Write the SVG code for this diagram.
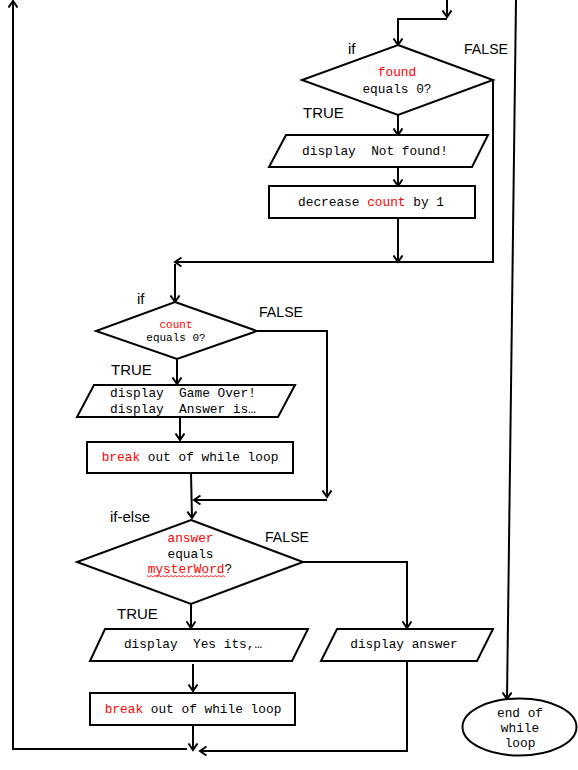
<svg xmlns="http://www.w3.org/2000/svg" width="578" height="770" viewBox="0 0 578 770">
<defs>
<marker id="arr" markerUnits="userSpaceOnUse" markerWidth="10" markerHeight="12" refX="7" refY="5" orient="auto">
<path d="M0.5,0.5 L7,5 L0.5,9.5" fill="none" stroke="#000" stroke-width="2"/>
</marker>
</defs>
<style>
.shape{fill:#fff;stroke:#000;stroke-width:2}
.conn{fill:none;stroke:#000;stroke-width:2;marker-end:url(#arr)}
.line{fill:none;stroke:#000;stroke-width:2}
.mono{font-family:"Liberation Mono","Courier New",monospace;font-size:12.8px;fill:#000}
.sm{font-size:11px}
.red{fill:#ff0000}
.lbl{font-family:"Liberation Sans",Arial,sans-serif;font-size:15px;fill:#000}
</style>
<rect width="578" height="770" fill="#fff"/>
<g id="connectors">
<path class="conn" d="M447,0 V17"/>
<path class="conn" d="M447,19 H398 V45"/>
<path class="conn" d="M398,115 V135"/>
<path class="conn" d="M398,167 V186"/>
<path class="conn" d="M398,218 V262"/>
<path class="conn" d="M493,80 V262 H175"/>
<path class="conn" d="M175,264 V302"/>
<path class="conn" d="M177,359 V384"/>
<path class="conn" d="M180,417 V440"/>
<path class="conn" d="M191,473 L192,518"/>
<path class="conn" d="M257,331 H327 V497"/>
<path class="conn" d="M327,500 H194"/>
<path class="conn" d="M191,604 V628"/>
<path class="conn" d="M303,562 H407 V628"/>
<path class="conn" d="M193,664 V691"/>
<path class="conn" d="M193,725 V750"/>
<path class="conn" d="M187,749 H13 V1"/>
<path class="conn" d="M407,661 V751 H200"/>
<path class="conn" d="M516,0 L507,699"/>
</g>
<g id="d1">
<polygon class="shape" points="398,45 493,80 398,115 302,80"/>
<text class="mono red" x="397" y="76" text-anchor="middle">found</text>
<text class="mono" x="397" y="93" text-anchor="middle">equals 0?</text>
<text class="lbl" x="348" y="54">if</text>
<text class="lbl" x="464" y="54" textLength="44" lengthAdjust="spacingAndGlyphs">FALSE</text>
<text class="lbl" x="303" y="118">TRUE</text>
</g>
<g id="p1">
<polygon class="shape" points="286,135 488,135 472,167 269,167"/>
<text class="mono" x="375" y="155" text-anchor="middle" xml:space="preserve">display  Not found!</text>
</g>
<g id="r2">
<rect class="shape" x="269" y="186" width="206" height="32"/>
<text class="mono" x="371" y="206" text-anchor="middle">decrease <tspan class="red">count</tspan> by 1</text>
</g>
<g id="d2">
<polygon class="shape" points="175,302 257,331 177,359 96,331"/>
<text class="mono sm red" x="176" y="327.5" text-anchor="middle">count</text>
<text class="mono sm" x="176" y="341" text-anchor="middle">equals 0?</text>
<text class="lbl" x="137" y="304">if</text>
<text class="lbl" x="259" y="317" textLength="44" lengthAdjust="spacingAndGlyphs">FALSE</text>
<text class="lbl" x="111" y="375">TRUE</text>
</g>
<g id="p2">
<polygon class="shape" points="94,385 295,385 278,417 77,417"/>
<text class="mono" x="110" y="397" xml:space="preserve">display  Game Over!</text>
<text class="mono" x="110" y="413" xml:space="preserve">display  Answer is…</text>
</g>
<g id="r3">
<rect class="shape" x="87" y="442" width="206" height="31"/>
<text class="mono" x="190" y="461" text-anchor="middle"><tspan class="red">break</tspan> out of while loop</text>
</g>
<g id="d3">
<polygon class="shape" points="191,520 303,562 191,604 77,562"/>
<text class="mono red" x="190.5" y="542" text-anchor="middle">answer</text>
<text class="mono" x="190.5" y="558" text-anchor="middle">equals</text>
<text class="mono" x="190" y="573" text-anchor="middle"><tspan class="red">mysterWord</tspan>?</text>
<path d="M147,575.5 l2,1.5 l2,-1.5 l2,1.5 l2,-1.5 l2,1.5 l2,-1.5 l2,1.5 l2,-1.5 l2,1.5 l2,-1.5 l2,1.5 l2,-1.5 l2,1.5 l2,-1.5 l2,1.5 l2,-1.5 l2,1.5 l2,-1.5 l2,1.5 l2,-1.5 l2,1.5 l2,-1.5 l2,1.5 l2,-1.5 l2,1.5 l2,-1.5 l2,1.5 l2,-1.5 l2,1.5 l2,-1.5 l2,1.5 l2,-1.5 l2,1.5 l2,-1.5 l2,1.5 l2,-1.5 l2,1.5 l2,-1.5 l2,1.5" fill="none" stroke="#ff0000" stroke-width="0.8"/>
<text class="lbl" x="110" y="522">if-else</text>
<text class="lbl" x="265" y="542" textLength="44" lengthAdjust="spacingAndGlyphs">FALSE</text>
<text class="lbl" x="117" y="619">TRUE</text>
</g>
<g id="p4">
<polygon class="shape" points="105,629 308,629 292,661 90,661"/>
<text class="mono" x="193" y="648" text-anchor="middle" xml:space="preserve">display  Yes its,…</text>
</g>
<g id="p5">
<polygon class="shape" points="337,629 493,629 477,661 321,661"/>
<text class="mono" x="404" y="648" text-anchor="middle">display answer</text>
</g>
<g id="r6">
<rect class="shape" x="90" y="693" width="205" height="32"/>
<text class="mono" x="193" y="713" text-anchor="middle"><tspan class="red">break</tspan> out of while loop</text>
</g>
<g id="end">
<ellipse class="shape" cx="519.5" cy="727" rx="57" ry="28.5"/>
<text class="mono" x="520" y="717" text-anchor="middle">end of</text>
<text class="mono" x="520" y="732" text-anchor="middle">while</text>
<text class="mono" x="520" y="747" text-anchor="middle">loop</text>
</g>
</svg>
